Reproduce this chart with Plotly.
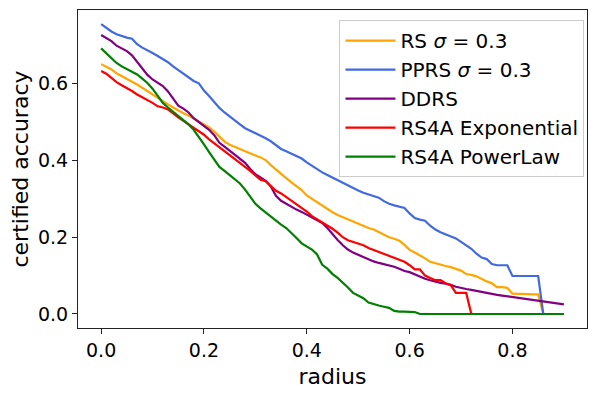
import plotly.graph_objects as go

# radius grid (step 0.01)
radius = [round(i * 0.01, 2) for i in range(91)]

rs = [0.651, 0.645, 0.637, 0.627, 0.619, 0.612, 0.605, 0.598, 0.589, 0.580,
      0.571, 0.562, 0.554, 0.546, 0.538, 0.530, 0.523, 0.517, 0.509, 0.502,
      0.495, 0.486, 0.475, 0.461, 0.449, 0.441, 0.435, 0.430, 0.424, 0.419,
      0.413, 0.408, 0.401, 0.388, 0.376, 0.365, 0.354, 0.343, 0.333, 0.323,
      0.309, 0.300, 0.291, 0.283, 0.274, 0.265, 0.258, 0.252, 0.246, 0.240,
      0.234, 0.229, 0.224, 0.220, 0.213, 0.206, 0.200, 0.196, 0.191, 0.180,
      0.167, 0.160, 0.153, 0.145, 0.136, 0.132, 0.129, 0.125, 0.122, 0.118,
      0.113, 0.104, 0.102, 0.098, 0.091, 0.085, 0.080, 0.070, 0.070, 0.068,
      0.053, 0.053, 0.052, 0.052, 0.051, 0.051, 0.0, 0.0, 0.0, 0.0, 0.0]

pprs = [0.755, 0.745, 0.736, 0.729, 0.724, 0.720, 0.717, 0.703, 0.694, 0.688,
        0.680, 0.672, 0.665, 0.656, 0.645, 0.635, 0.625, 0.616, 0.607, 0.601,
        0.582, 0.568, 0.553, 0.537, 0.525, 0.514, 0.504, 0.494, 0.484, 0.478,
        0.472, 0.466, 0.458, 0.450, 0.440, 0.430, 0.424, 0.417, 0.412, 0.405,
        0.395, 0.386, 0.377, 0.369, 0.362, 0.355, 0.349, 0.342, 0.336, 0.329,
        0.322, 0.316, 0.312, 0.308, 0.303, 0.294, 0.287, 0.283, 0.279, 0.276,
        0.262, 0.250, 0.246, 0.243, 0.230, 0.220, 0.213, 0.207, 0.203, 0.197,
        0.188, 0.179, 0.170, 0.157, 0.147, 0.143, 0.130, 0.127, 0.127, 0.127,
        0.099, 0.099, 0.099, 0.099, 0.099, 0.099, 0.0, 0.0, 0.0, 0.0, 0.0]

ddrs = [0.727, 0.720, 0.711, 0.699, 0.692, 0.685, 0.674, 0.657, 0.638, 0.623,
        0.611, 0.603, 0.594, 0.580, 0.563, 0.543, 0.535, 0.525, 0.510, 0.500,
        0.491, 0.480, 0.466, 0.446, 0.436, 0.426, 0.416, 0.405, 0.394, 0.378,
        0.364, 0.356, 0.347, 0.332, 0.308, 0.295, 0.287, 0.279, 0.272, 0.266,
        0.259, 0.252, 0.245, 0.237, 0.224, 0.207, 0.193, 0.179, 0.168, 0.160,
        0.154, 0.147, 0.142, 0.137, 0.133, 0.130, 0.126, 0.123, 0.118, 0.112,
        0.109, 0.103, 0.097, 0.092, 0.088, 0.084, 0.081, 0.079, 0.076, 0.071,
        0.067, 0.065, 0.063, 0.060, 0.057, 0.055, 0.052, 0.050, 0.048, 0.046,
        0.044, 0.042, 0.040, 0.038, 0.037, 0.035, 0.033, 0.031, 0.029, 0.027,
        0.025]

rs4a_exp = [0.633, 0.626, 0.615, 0.604, 0.596, 0.589, 0.581, 0.572, 0.565, 0.559,
            0.550, 0.541, 0.538, 0.533, 0.522, 0.512, 0.503, 0.494, 0.485, 0.476,
            0.467, 0.455, 0.445, 0.435, 0.425, 0.415, 0.404, 0.394, 0.384, 0.373,
            0.361, 0.350, 0.346, 0.333, 0.321, 0.314, 0.305, 0.295, 0.286, 0.277,
            0.267, 0.255, 0.247, 0.239, 0.231, 0.222, 0.212, 0.200, 0.192, 0.188,
            0.184, 0.179, 0.172, 0.167, 0.162, 0.157, 0.152, 0.148, 0.143, 0.136,
            0.127, 0.116, 0.116, 0.100, 0.094, 0.088, 0.088, 0.080, 0.075, 0.055,
            0.055, 0.055, 0.0, 0.0, 0.0, 0.0, 0.0, 0.0, 0.0, 0.0,
            0.0, 0.0, 0.0, 0.0, 0.0, 0.0, 0.0, 0.0, 0.0, 0.0, 0.0]

rs4a_pow = [0.692, 0.679, 0.667, 0.654, 0.645, 0.638, 0.632, 0.624, 0.613, 0.602,
            0.587, 0.567, 0.550, 0.538, 0.527, 0.516, 0.506, 0.494, 0.480, 0.462,
            0.442, 0.422, 0.401, 0.383, 0.373, 0.362, 0.351, 0.340, 0.324, 0.304,
            0.287, 0.275, 0.264, 0.253, 0.242, 0.233, 0.224, 0.212, 0.198, 0.184,
            0.176, 0.168, 0.155, 0.128, 0.118, 0.104, 0.094, 0.082, 0.069, 0.055,
            0.048, 0.041, 0.030, 0.025, 0.022, 0.019, 0.016, 0.008, 0.006, 0.006,
            0.005, 0.005, 0.0, 0.0, 0.0, 0.0, 0.0, 0.0, 0.0, 0.0,
            0.0, 0.0, 0.0, 0.0, 0.0, 0.0, 0.0, 0.0, 0.0, 0.0,
            0.0, 0.0, 0.0, 0.0, 0.0, 0.0, 0.0, 0.0, 0.0, 0.0, 0.0]

names = ["RS <i>σ</i> = 0.3", "PPRS <i>σ</i> = 0.3", "DDRS",
         "RS4A Exponential", "RS4A PowerLaw"]
colors = ["orange", "royalblue", "purple", "red", "green"]

fig = go.Figure()
for name, ys, c in zip(names, [rs, pprs, ddrs, rs4a_exp, rs4a_pow], colors):
    fig.add_trace(go.Scatter(x=radius, y=ys, mode="lines", name=name,
                             line=dict(color=c, width=2.2)))

axis_common = dict(showgrid=False, zeroline=False, showline=True, mirror=True,
                   linecolor="#222", linewidth=1.2, ticks="outside", ticklen=5,
                   tickcolor="#222", tickfont=dict(size=19, color="black"))

# page body has an 8px margin, so the figure is a bit smaller than the window
fig.update_layout(
    width=590, height=387,
    margin=dict(l=70, r=11, t=2, b=67),
    paper_bgcolor="white", plot_bgcolor="white",
    font=dict(family="DejaVu Sans", color="black"),
    showlegend=True,
    legend=dict(x=0.995, y=0.968, xanchor="right", yanchor="top",
                font=dict(size=20), bgcolor="rgba(255,255,255,0.8)",
                bordercolor="#cccccc", borderwidth=1,
                itemwidth=50),
    xaxis=dict(range=[-0.045, 0.945], tickvals=[0.0, 0.2, 0.4, 0.6, 0.8],
               ticktext=["0.0", "0.2", "0.4", "0.6", "0.8"],
               title=dict(text="radius", font=dict(size=22), standoff=8),
               **axis_common),
    yaxis=dict(range=[-0.0365, 0.792], tickvals=[0.0, 0.2, 0.4, 0.6],
               ticktext=["0.0", "0.2", "0.4", "0.6"],
               title=dict(text="certified accuracy", font=dict(size=22), standoff=10),
               **axis_common),
)

fig.write_html("out.html")
